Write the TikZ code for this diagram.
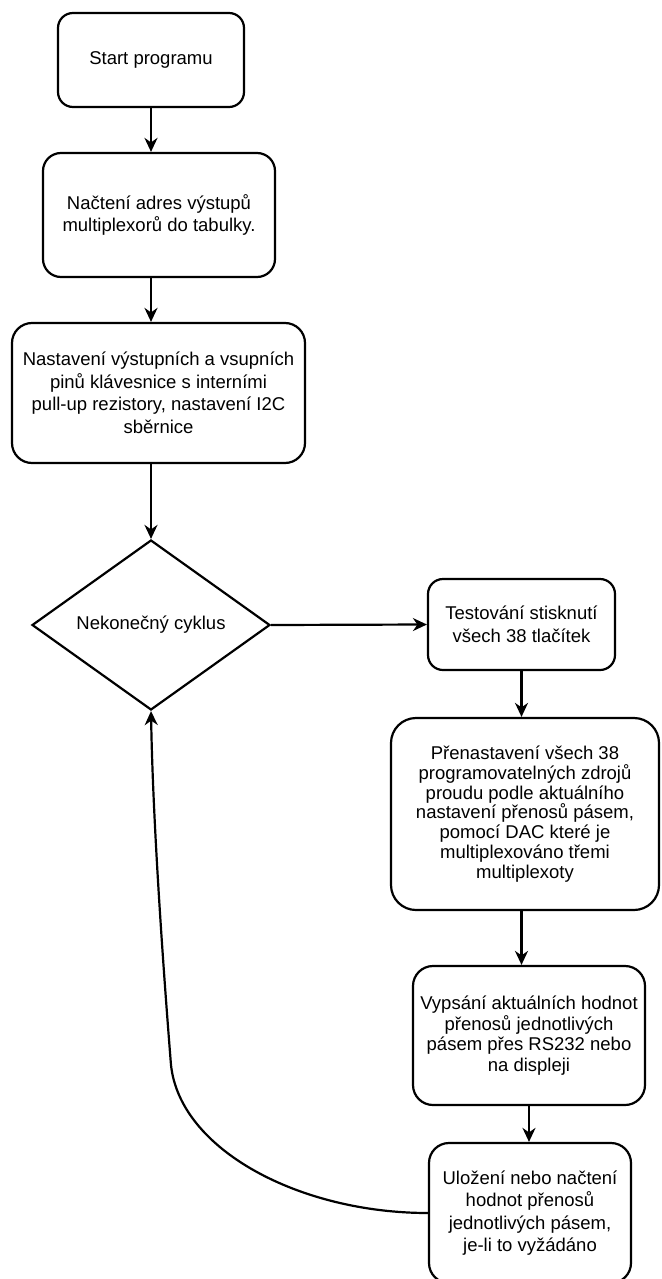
\documentclass[tikz,border=0pt]{standalone}
\usepackage{fontspec}
\setmainfont{Liberation Sans}
\usetikzlibrary{shapes.geometric,arrows.meta}
\begin{document}
\begin{tikzpicture}[x=1pt,y=-1pt,
  box/.style={draw, line width=2.2pt, rectangle, align=center, inner sep=0pt,
    font=\fontsize{18.5}{22.5}\selectfont},
  arr/.style={line width=2.2pt, -{Stealth[length=14pt,width=13pt,inset=4.5pt]}}]
\useasboundingbox[fill=white] (0,0) rectangle (661,1279);
\node[box, rounded corners=15pt, minimum width=186pt, minimum height=94pt] (b1) at (151,60) {Start programu};
\node[box, rounded corners=18pt, minimum width=232pt, minimum height=124pt] (b2) at (159,215) {Načtení adres výstupů\\multiplexorů do tabulky.};
\node[box, rounded corners=20pt, minimum width=293pt, minimum height=140pt] (b3) at (158.5,393) {Nastavení výstupních a vsupních\\pinů klávesnice s interními\\pull-up rezistory, nastavení I2C\\sběrnice};
\node[draw, diamond, line width=2.2pt, minimum width=238pt, minimum height=170pt, inner sep=0pt,
  font=\fontsize{18.5}{22.5}\selectfont] (d) at (151,625) {Nekonečný cyklus};
\node[box, rounded corners=15pt, minimum width=187pt, minimum height=91pt] (b4) at (521.5,624.5) {Testování stisknutí\\všech 38 tlačítek};
\node[box, rounded corners=25pt, minimum width=268pt, minimum height=192pt, font=\fontsize{18.5}{19.8}\selectfont] (b5) at (525,814) {Přenastavení všech 38\\programovatelných zdrojů\\proudu podle aktuálního\\nastavení přenosů pásem,\\pomocí DAC které je\\multiplexováno třemi\\multiplexoty};
\node[box, rounded corners=20pt, minimum width=232pt, minimum height=139pt, font=\fontsize{18.5}{20.5}\selectfont] (b6) at (529,1035.5) {Vypsání aktuálních hodnot\\přenosů jednotlivých\\pásem přes RS232 nebo\\na displeji};
\node[box, rounded corners=20pt, minimum width=202pt, minimum height=140pt] (b7) at (530,1213) {Uložení nebo načtení\\hodnot přenosů\\jednotlivých pásem,\\je-li to vyžádáno};
\draw[arr] (b1.south) -- (b2.north -| b1.south);
\draw[arr] (b2.south -| d.north) -- (b3.north -| d.north);
\draw[arr] (b3.south -| d.north) -- (d.north);
\draw[arr] (d.east) -- (b4.west);
\draw[arr] (b4.south) -- (b5.north -| b4.south);
\draw[arr] (b5.south -| b4.south) -- (b6.north -| b4.south);
\draw[arr] (b6.south) -- (b7.north -| b6.south);
\draw[arr] (b7.west) .. controls (300,1213) and (180,1150) .. (171,1065)
  .. controls (165,990) and (153,830) .. (d.south);
\end{tikzpicture}
\end{document}
